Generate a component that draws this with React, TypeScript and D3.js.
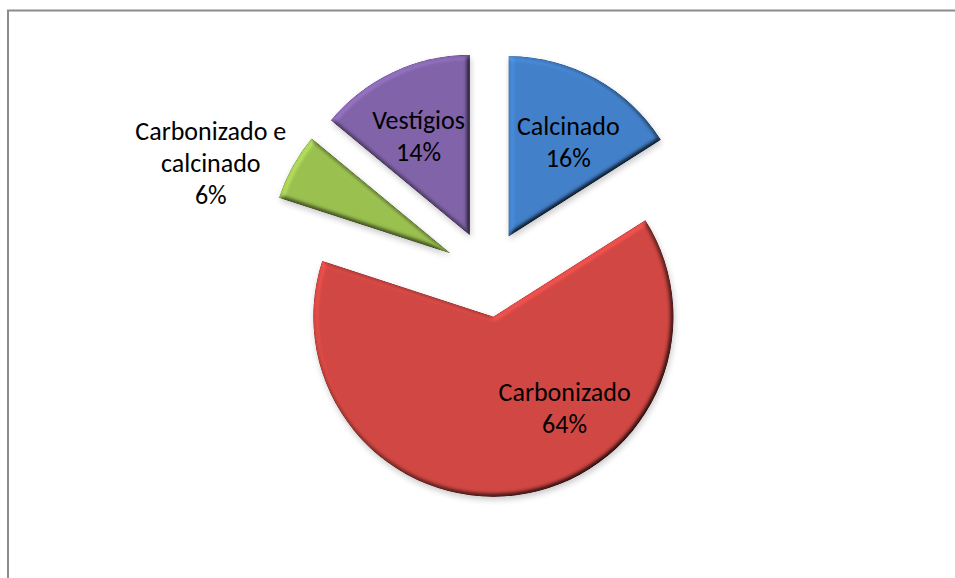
import React from 'react';
import * as d3 from 'd3';

// chart data
const categories = ['Calcinado', 'Carbonizado', 'Carbonizado e calcinado', 'Vestígios'];
const values = [16, 64, 6, 14];
const sliceColors = ['#4381cb', '#d24743', '#9bc150', '#8163a9'];

// label placement: inside or outside the slice, and a small turn off the mid angle (deg)
const labelOutside = [false, false, true, false];
const labelShift = [2.5, -22.5, -7, -1.5];

const W = 955;
const H = 578;
const cx = 488;
const cy = 274;
const radius = 180;
const explode = 43;
const fontSize = 26;
const lineH = 32;

// greedy word wrap on a character budget, like Excel's label box
function wrap(text: string, maxChars = 13): string[] {
  const lines: string[] = [];
  let cur = '';
  text.split(' ').forEach(w => {
    const next = cur ? cur + ' ' + w : w;
    if (next.length > maxChars && cur) {
      lines.push(cur);
      cur = w;
    } else {
      cur = next;
    }
  });
  if (cur) lines.push(cur);
  return lines;
}

export default function App() {
  const pie = d3.pie<number>().sort(null).value(d => d);
  const arcs = pie(values);
  const arc = d3.arc<d3.PieArcDatum<number>>().innerRadius(0).outerRadius(radius);
  const total = d3.sum(values);
  const pct = d3.format('.0%');

  const polar = (angle: number, dist: number) => [Math.sin(angle) * dist, -Math.cos(angle) * dist];

  return (
    <svg width={W} height={H} style={{ position: 'absolute', left: 0, top: 0, background: '#fff' }}>
      <defs>
        <filter id="bevel" x="-20%" y="-20%" width="140%" height="140%" colorInterpolationFilters="sRGB">
          <feGaussianBlur in="SourceAlpha" stdDeviation="2.5" result="blur" />
          <feDiffuseLighting in="blur" surfaceScale="3.5" diffuseConstant="0.92" lightingColor="#ffffff" result="diff">
            <feDistantLight azimuth={225} elevation={60} />
          </feDiffuseLighting>
          <feComposite in="SourceGraphic" in2="diff" operator="arithmetic" k1="1.25" k2="0" k3="0" k4="0" result="lit" />
          <feGaussianBlur in="SourceAlpha" stdDeviation="3" result="sblur" />
          <feOffset in="sblur" dx="1" dy="2.5" result="soff" />
          <feComponentTransfer in="soff" result="shadow">
            <feFuncA type="linear" slope="0.22" />
          </feComponentTransfer>
          <feMerge>
            <feMergeNode in="shadow" />
            <feMergeNode in="lit" />
          </feMerge>
        </filter>
      </defs>

      {/* chart frame: only top and left edges fall inside the window */}
      <path d={`M8,${H} V10.5 H${W}`} fill="none" stroke="#8c8c8c" strokeWidth={2} />

      <g transform={`translate(${cx},${cy})`}>
        {arcs.map((a, i) => {
          const mid = (a.startAngle + a.endAngle) / 2;
          const [dx, dy] = polar(mid, explode);
          return (
            <g key={categories[i]} transform={`translate(${dx},${dy})`}>
              <path d={arc(a) || ''} fill={sliceColors[i]} filter="url(#bevel)" />
            </g>
          );
        })}

        {arcs.map((a, i) => {
          const mid = (a.startAngle + a.endAngle) / 2 + (labelShift[i] * Math.PI) / 180;
          const dist = explode + radius * (labelOutside[i] ? 1.42 : 0.62);
          const [lx, ly] = polar(mid, dist);
          const lines = [...wrap(categories[i]), pct(values[i] / total)];
          return (
            <text
              key={'l' + categories[i]}
              x={lx}
              y={ly}
              textAnchor="middle"
              fontFamily="Carlito, Calibri, Lato, sans-serif"
              fontSize={fontSize}
              fill="#000"
            >
              {lines.map((t, j) => (
                <tspan key={j} x={lx} y={ly + (j - (lines.length - 1) / 2) * lineH} dominantBaseline="central">
                  {t}
                </tspan>
              ))}
            </text>
          );
        })}
      </g>
    </svg>
  );
}
